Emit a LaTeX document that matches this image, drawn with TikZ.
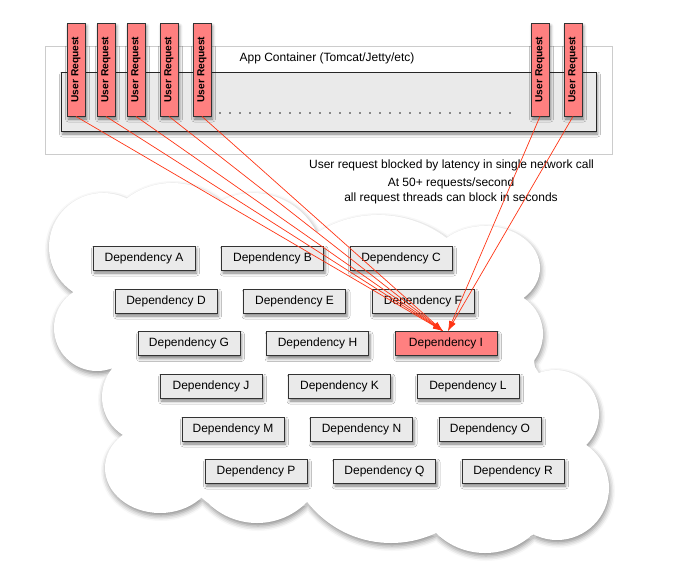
\documentclass[tikz,border=0pt]{standalone}
\usepackage{fontspec}
\setmainfont{Liberation Sans}
\usetikzlibrary{shadows.blur,arrows.meta}
\definecolor{reqred}{RGB}{255,128,128}
\definecolor{callred}{RGB}{255,52,20}
\definecolor{boxgray}{RGB}{234,234,234}
\begin{document}
\begin{tikzpicture}[x=1pt,y=-1pt,font=\fontsize{12}{14.5}\selectfont,
    soft shadow/.style={blur shadow={shadow xshift=1.5pt,shadow yshift=-3pt,shadow blur radius=3pt,shadow opacity=50}},
    dep node/.style={rectangle,draw=black!80,fill=boxgray,line width=0.9pt,minimum width=102pt,minimum height=24pt,inner sep=0pt,soft shadow},
    req node/.style={rectangle,draw=black!80,fill=reqred,line width=0.9pt,rotate=90,minimum width=93pt,minimum height=18pt,inner sep=0pt,
                     font=\fontsize{10.2}{12}\selectfont\bfseries,soft shadow},
    call/.style={draw=callred,line width=0.7pt,-{Latex[length=10pt,width=6pt]}}]
  \useasboundingbox (0,0) rectangle (697,579);

  % app container
  \node[draw=black!20,fill=white,line width=0.7pt,minimum width=567pt,minimum height=108pt] (app) at (328.5,100) {};
  \node (applabel) at (327,58) {App Container (Tomcat/Jetty/etc)};
  \node[draw=black!85,fill=boxgray,line width=0.9pt,minimum width=535pt,minimum height=59pt,soft shadow] (pool) at (328.5,101.5) {};
  \draw[black!85,line width=1.8pt,line cap=round,dash pattern=on 0pt off 10pt] (220,113) -- (520,113);

  \node[req node] (u1) at (76,69.5) {User Request};
  \node[req node] (u2) at (106,69.5) {User Request};
  \node[req node] (u3) at (136,69.5) {User Request};
  \node[req node] (u4) at (169,69.5) {User Request};
  \node[req node] (u5) at (202,69.5) {User Request};
  \node[req node] (u6) at (540,69.5) {User Request};
  \node[req node] (u7) at (573,69.5) {User Request};

  \node (blocked) at (451.5,165) {User request blocked by latency in single network call};
  \node[align=center] (rate) at (451,191) {At 50+ requests/second\\all request threads can block in seconds};

  % cloud of dependencies
  \path[fill=white,blur shadow={shadow xshift=1pt,shadow yshift=-3pt,shadow blur radius=5pt,shadow opacity=45}]
    (75,292) -- (112,368) -- (127,437) -- (208,503) -- (307,502) -- (437,533) -- (533,535)
      -- (583,443) -- (535,367) -- (522,302) -- (440,236) -- (317,233) -- (222,200) -- (128,200) -- cycle
    (103,247) circle (54pt)  (172,257) circle (74pt)  (253,264) circle (71pt)
    (378,329) circle (114pt) (485,268) ellipse (55pt and 42pt) (500,334) circle (43pt)
    (555,414) circle (44pt)  (557,488) circle (52pt)  (485,483) circle (70pt)
    (391,437) circle (106pt) (257,453) circle (70pt)  (160,468) ellipse (55pt and 45pt)
    (147,397) circle (45pt)  (97,328) circle (43pt);

  \node[dep node] (A) at (144,258) {Dependency A};
  \node[dep node] (B) at (272.5,258) {Dependency B};
  \node[dep node] (C) at (401,258) {Dependency C};
  \node[dep node] (D) at (166,301) {Dependency D};
  \node[dep node] (E) at (294.5,301) {Dependency E};
  \node[dep node] (F) at (423,301) {Dependency F};
  \node[dep node] (G) at (189,343.5) {Dependency G};
  \node[dep node] (H) at (317.5,343.5) {Dependency H};
  \node[dep node,fill=reqred] (I) at (446,343.5) {Dependency I};
  \node[dep node] (J) at (211,386) {Dependency J};
  \node[dep node] (K) at (339.5,386) {Dependency K};
  \node[dep node] (L) at (468,386) {Dependency L};
  \node[dep node] (M) at (233,429) {Dependency M};
  \node[dep node] (N) at (361.5,429) {Dependency N};
  \node[dep node] (O) at (490,429) {Dependency O};
  \node[dep node] (P) at (256,471) {Dependency P};
  \node[dep node] (Q) at (384.5,471) {Dependency Q};
  \node[dep node] (R) at (513,471) {Dependency R};

  \path
    (u1.west) edge[call] ([xshift=-3pt]I.north)
    (u2.west) edge[call] ([xshift=-3pt]I.north)
    (u3.west) edge[call] ([xshift=-3pt]I.north)
    (u4.west) edge[call] ([xshift=-3pt]I.north)
    (u5.west) edge[call] ([xshift=-3pt]I.north)
    (u6.west) edge[call] ([xshift=2pt]I.north)
    (u7.west) edge[call] ([xshift=2pt]I.north);
\end{tikzpicture}
\end{document}
